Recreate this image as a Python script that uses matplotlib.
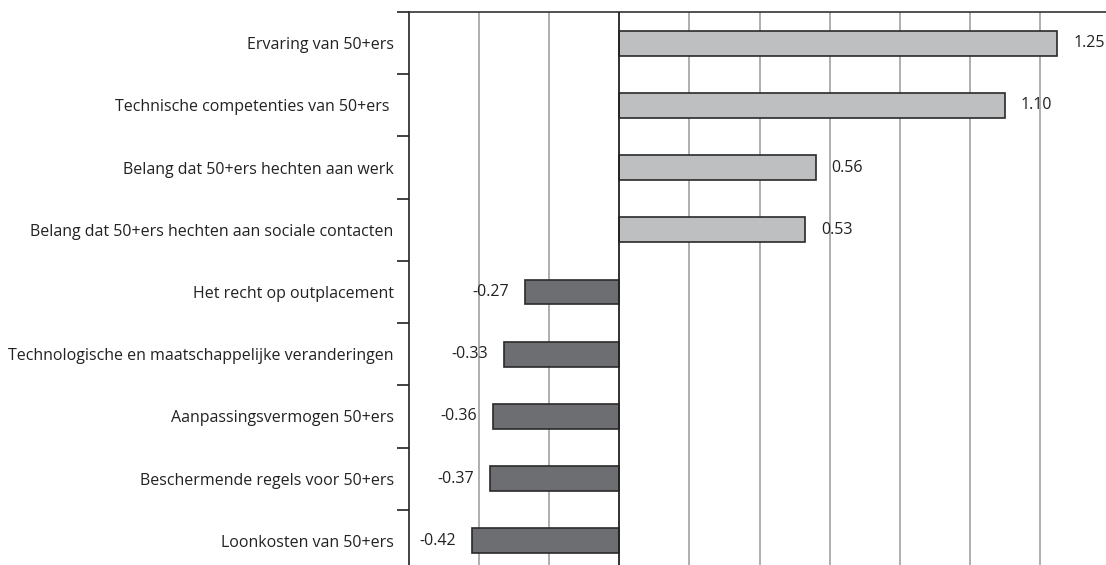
import numpy as np
import matplotlib.pyplot as plt
from matplotlib.ticker import FixedLocator

categories = [
    "Ervaring van 50+ers",
    "Technische competenties van 50+ers ",
    "Belang dat 50+ers hechten aan werk",
    "Belang dat 50+ers hechten aan sociale contacten",
    "Het recht op outplacement",
    "Technologische en maatschappelijke veranderingen",
    "Aanpassingsvermogen 50+ers",
    "Beschermende regels voor 50+ers",
    "Loonkosten van 50+ers",
]
values = [1.25, 1.10, 0.56, 0.53, -0.27, -0.33, -0.36, -0.37, -0.42]
labels = ["1.25", "1.10", "0.56", "0.53", "-0.27", "-0.33", "-0.36", "-0.37", "-0.42"]

plt.rcParams['font.family'] = ['Open Sans', 'DejaVu Sans']

fig = plt.figure(figsize=(11.06, 5.65), dpi=100)
ax = fig.add_axes([409/1106, -7/565, 701/1106, 560/565])

y = np.arange(len(categories))
cols = ['#bebfc1' if v > 0 else '#6d6e71' for v in values]
ax.barh(y, values, height=0.4, color=cols, edgecolor='#2a2a2a', linewidth=1.2, zorder=3)

ax.set_xlim(-0.6, 1.4)
ax.set_ylim(len(categories) - 0.5, -0.5)

# grid every 0.2, zero line drawn dark
for gx in np.arange(-0.4, 1.41, 0.2):
    if abs(gx) < 1e-9:
        continue
    ax.axvline(gx, color='#a8a8a8', linewidth=1.3, zorder=1)
ax.axvline(0, color='#222222', linewidth=1.3, zorder=4)

for yi, v, t in zip(y, values, labels):
    if v > 0:
        ax.text(v + 0.045, yi, t, ha='left', va='center', fontsize=11.5, color='#222222')
    else:
        ax.text(v - 0.045, yi, t, ha='right', va='center', fontsize=11.5, color='#222222')

ax.set_yticks(y)
ax.set_yticklabels(categories, fontsize=11.5, color='#222222')
ax.tick_params(axis='y', which='major', length=0, pad=11)
ax.yaxis.set_minor_locator(FixedLocator(np.arange(-0.5, len(categories), 1.0)))
ax.tick_params(axis='y', which='minor', length=9, width=1.2, color='#222222', direction='out')
ax.set_xticks([])

ax.spines['left'].set_color('#222222')
ax.spines['left'].set_linewidth(1.2)
ax.spines['top'].set_color('#333333')
ax.spines['top'].set_linewidth(1.2)
ax.spines['right'].set_visible(False)
ax.spines['bottom'].set_visible(False)

fig.savefig('out.png', dpi=100)
